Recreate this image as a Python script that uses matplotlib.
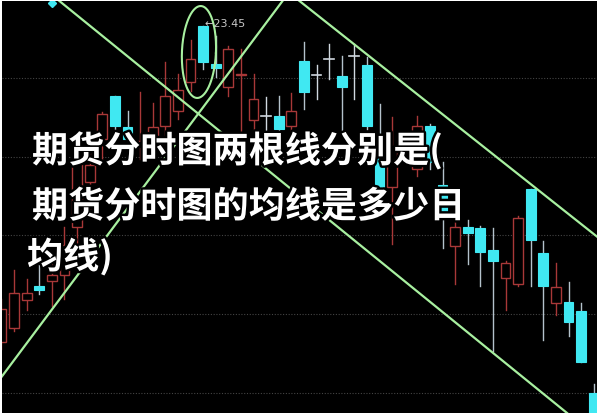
import numpy as np
import matplotlib
matplotlib.use("Agg")
import matplotlib.pyplot as plt
from matplotlib.patches import Rectangle
import matplotlib.patheffects as pe

# candle data (index, open, close, high, low)
opens = [20.29, 20.43, 20.71, 20.85, 20.90, 20.96, 21.44, 21.89, 22.32, 22.75,
         22.44, 22.25, 22.32, 22.45, 22.60, 22.89, 23.45, 23.07, 22.84, 22.96,
         22.51, 22.55, 22.55, 22.45, 23.10, 22.96, 23.12, 22.95, 23.15, 23.06,
         22.20, 21.84, 22.23, 22.02, 22.45, 21.86, 21.25, 21.44, 21.43, 21.21,
         20.93, 20.87, 21.82, 21.18, 20.68, 20.69, 20.60, 19.78]
closes = [20.62, 20.78, 20.78, 20.81, 20.96, 21.26, 22.08, 22.06, 22.57, 22.45,
          22.32, 22.30, 22.44, 22.75, 22.81, 23.12, 23.09, 23.03, 23.22, 22.97,
          22.72, 22.55, 22.42, 22.60, 22.79, 22.96, 23.12, 22.84, 23.15, 22.45,
          21.84, 22.22, 22.27, 22.45, 22.09, 21.55, 21.44, 21.38, 21.19, 21.10,
          21.08, 21.53, 21.31, 20.85, 20.84, 20.49, 20.09, 19.52]
highs = [20.72, 21.01, 20.92, 21.08, 21.09, 21.44, 22.12, 22.22, 22.59, 22.75,
         22.60, 22.79, 22.68, 23.09, 22.97, 23.31, 23.45, 23.35, 23.25, 23.22,
         22.97, 22.74, 22.75, 22.78, 23.29, 23.06, 23.27, 23.15, 23.27, 23.14,
         22.67, 22.54, 22.32, 22.55, 22.47, 22.09, 21.54, 21.51, 21.45, 21.43,
         21.10, 21.55, 21.82, 21.30, 21.08, 20.89, 20.68, 19.87]
lows = [20.22, 20.40, 20.61, 20.77, 20.65, 20.72, 21.28, 21.62, 22.12, 22.37,
        22.22, 22.12, 22.22, 22.27, 22.52, 22.80, 23.02, 22.94, 22.75, 22.32,
        22.32, 22.32, 22.35, 22.32, 22.62, 22.72, 22.92, 22.40, 22.72, 22.42,
        21.77, 21.27, 22.12, 21.95, 22.02, 21.23, 20.87, 21.07, 20.85, 20.20,
        20.61, 20.85, 20.85, 20.31, 20.56, 20.35, 20.09, 19.52]

grid_levels = [22.93, 22.14, 21.36, 20.57, 19.78]

# trend lines: (index, price) end points
trend_lines = [
    [(4.40, 23.72), (44.88, 19.58)],
    [(-0.12, 19.92), (22.42, 23.72)],
    [(23.45, 23.72), (47.50, 21.32)],
]

peak_idx, peak_price = 16, 23.45
marker_idx, marker_price = 4.0, 23.68

title_lines = ["期货分时图两根线分别是(", "期货分时图的均线是多少日", "均线)"]

RED = "#a83838"
CYAN = "#40e8f2"
WICK_GRAY = "#b4c2cc"
GREEN = "#a8f0a0"

fig = plt.figure(figsize=(6, 4.14), dpi=100, facecolor="white")
ax = fig.add_axes([2 / 600, 0, 595 / 600, 412 / 414])
ax.set_facecolor("black")
ax.set_xlim(0.04, 47.26)
ax.set_ylim(19.58, 23.70)
ax.set_xticks([])
ax.set_yticks([])
for s in ax.spines.values():
    s.set_visible(False)

for lv in grid_levels:
    ax.axhline(lv, color="#444444", lw=0.8, ls=(0, (1, 1.5)), zorder=1)

w = 0.78
for i, (o, c, h, l) in enumerate(zip(opens, closes, highs, lows)):
    top, bot = max(o, c), min(o, c)
    if c > o:
        ax.plot([i, i], [top, h], color=RED, lw=1, zorder=2)
        ax.plot([i, i], [l, bot], color=RED, lw=1, zorder=2)
        ax.add_patch(Rectangle((i - w / 2, bot), w, top - bot, facecolor="black",
                               edgecolor=RED, lw=1, zorder=3))
    elif c < o:
        ax.plot([i, i], [l, h], color=WICK_GRAY, lw=1, zorder=2)
        ax.add_patch(Rectangle((i - w / 2, bot), w, top - bot, facecolor=CYAN,
                               edgecolor=CYAN, lw=0.8, zorder=3))
    else:
        ax.plot([i, i], [l, h], color="#d0d8e0", lw=1, zorder=2)
        ax.plot([i - w / 2, i + w / 2], [o, o], color="#d0d8e0", lw=1.2, zorder=3)

for (x0, y0), (x1, y1) in trend_lines:
    ax.plot([x0, x1], [y0, y1], color=GREEN, lw=1.6, zorder=5)

# ellipse around the peak (drawn in pixel-like units then mapped to data)
t = np.linspace(0, 2 * np.pi, 200)
a, b, ang = 17, 46, np.deg2rad(-2.5)
px = a * np.cos(t) * np.cos(ang) - b * np.sin(t) * np.sin(ang)
py = a * np.cos(t) * np.sin(ang) + b * np.sin(t) * np.cos(ang)
ax.plot(15.67 + px / 12.6, 23.19 + py / 100, color=GREEN, lw=1.5, zorder=5)

ax.text(peak_idx + 0.1, peak_price + 0.03, "←23.45", color="#c8c8c8", fontsize=8,
        va="center", ha="left", zorder=6)
ax.plot(marker_idx, marker_price, marker="D", ms=4, color=CYAN, zorder=6)

stroke = [pe.withStroke(linewidth=3.5, foreground="black")]
for txt, xp, yp in zip(title_lines, [32, 32, 27], [152, 208, 258]):
    fig.text(xp / 600, 1 - yp / 414, txt, color="white", fontsize=26,
             family=["Noto Sans CJK SC", "DejaVu Sans"], weight="bold",
             va="center", ha="left", path_effects=stroke, zorder=10)

fig.savefig("out.png", dpi=100, facecolor=fig.get_facecolor())
